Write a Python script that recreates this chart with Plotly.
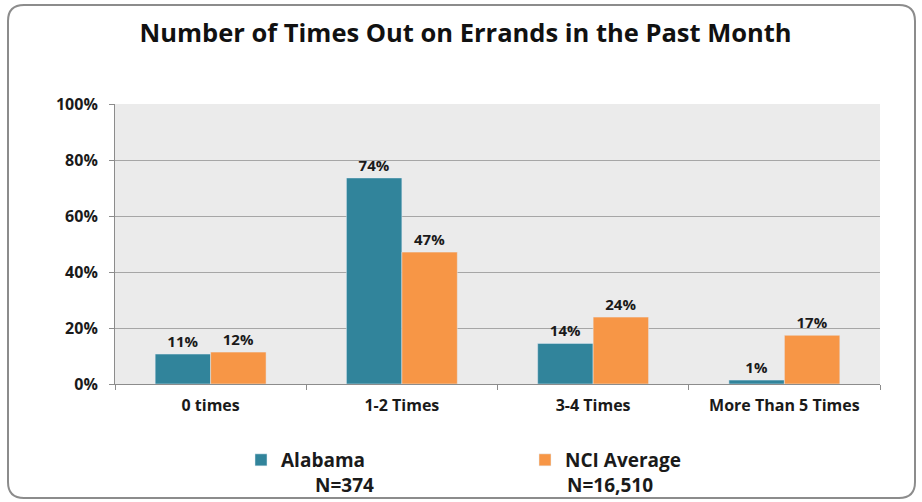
import plotly.graph_objects as go

categories = ["0 times", "1-2 Times", "3-4 Times", "More Than 5 Times"]
alabama = [10.7, 73.6, 14.5, 1.4]
nci = [11.4, 47.1, 23.9, 17.4]
alabama_labels = ["11%", "74%", "14%", "1%"]
nci_labels = ["12%", "47%", "24%", "17%"]
series_names = ["Alabama", "NCI Average"]
series_n = ["N=374", "N=16,510"]
y_ticks = [0, 20, 40, 60, 80, 100]
y_tick_labels = ["0%", "20%", "40%", "60%", "80%", "100%"]

FONT = "Open Sans"
W, H = 922, 502
L, R, T, B = 115, 42, 104, 118
pw, ph = W - L - R, H - T - B

fig = go.Figure()
fig.add_trace(go.Bar(
    x=categories, y=alabama, name=f"<b>{series_names[0]}</b>", marker_color="#31849B",
    text=alabama_labels, texttemplate="<b>%{text}</b>",
    textposition="outside", cliponaxis=False,
    textfont=dict(family=FONT, size=15, color="#1a1a1a"),
))
fig.add_trace(go.Bar(
    x=categories, y=nci, name=f"<b>{series_names[1]}</b>", marker_color="#F79646",
    text=nci_labels, texttemplate="<b>%{text}</b>",
    textposition="outside", cliponaxis=False,
    textfont=dict(family=FONT, size=15, color="#1a1a1a"),
))

def px_to_paper_x(px):
    return (px - L) / pw

def px_to_paper_y(py):
    return (H - B - py) / ph

x0, x1 = px_to_paper_x(8), px_to_paper_x(915)
y0, y1 = px_to_paper_y(498), px_to_paper_y(5)
rx, ry = 16 / pw, 16 / ph
path = (f"M {x0+rx},{y1} L {x1-rx},{y1} Q {x1},{y1} {x1},{y1-ry} "
        f"L {x1},{y0+ry} Q {x1},{y0} {x1-rx},{y0} L {x0+rx},{y0} "
        f"Q {x0},{y0} {x0},{y0+ry} L {x0},{y1-ry} Q {x0},{y1} {x0+rx},{y1} Z")

fig.update_layout(
    width=W, height=H,
    margin=dict(l=L, r=R, t=T, b=B),
    paper_bgcolor="white",
    plot_bgcolor="#EBEBEB",
    barmode="group",
    bargap=0.42,
    bargroupgap=0,
    font=dict(family=FONT, size=14, color="#1a1a1a"),
    title=dict(text="<b>Number of Times Out on Errands in the Past Month</b>",
               x=0.505, xanchor="center", y=1 - 33 / H, yanchor="middle",
               font=dict(family=FONT, size=25.5, color="#111111")),
    xaxis=dict(showline=True, linecolor="#8c8c8c", linewidth=1,
               ticks="outside", tickson="boundaries", ticklen=5, tickcolor="#8c8c8c",
               tickvals=categories, ticktext=[f"<b>{c}</b>" for c in categories],
               tickfont=dict(family=FONT, size=16, color="#1a1a1a"),
               ticklabelstandoff=7, showgrid=False),
    yaxis=dict(range=[0, 100], tickvals=y_ticks,
               ticktext=[f"<b>{t}</b>" for t in y_tick_labels],
               showline=True, linecolor="#8c8c8c", linewidth=1,
               ticks="outside", ticklen=5, tickcolor="#8c8c8c",
               gridcolor="#a6a6a6", gridwidth=1, zeroline=False,
               ticklabelstandoff=8,
               tickfont=dict(family=FONT, size=16, color="#1a1a1a")),
    legend=dict(orientation="h", x=px_to_paper_x(241), xanchor="left",
                y=px_to_paper_y(441), yanchor="top",
                entrywidth=239, entrywidthmode="pixels",
                font=dict(family=FONT, size=19, color="#1a1a1a"),
                bgcolor="rgba(0,0,0,0)"),
    shapes=[dict(type="path", path=path, xref="paper", yref="paper",
                 line=dict(color="#8c8c8c", width=2), fillcolor="rgba(0,0,0,0)",
                 layer="below")],
    annotations=[
        dict(text=f"<b>{series_n[0]}</b>", x=px_to_paper_x(313), y=px_to_paper_y(485),
             xref="paper", yref="paper", showarrow=False, yanchor="middle",
             font=dict(family=FONT, size=19, color="#1a1a1a")),
        dict(text=f"<b>{series_n[1]}</b>", x=px_to_paper_x(610), y=px_to_paper_y(485),
             xref="paper", yref="paper", showarrow=False, yanchor="middle",
             font=dict(family=FONT, size=19, color="#1a1a1a")),
    ],
)

fig.write_html("out.html", config={"displayModeBar": False},
               post_script="document.body.style.margin='0';document.body.style.overflow='hidden';")
